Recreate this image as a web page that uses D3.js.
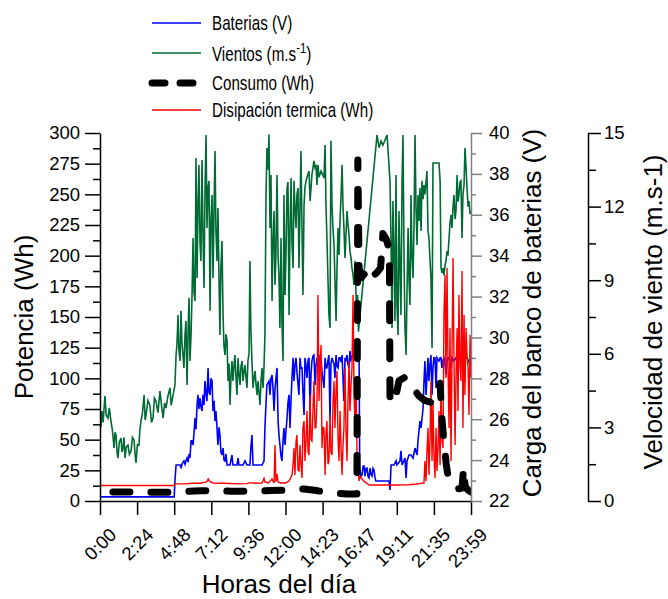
<!DOCTYPE html>
<html>
<head>
<meta charset="utf-8">
<script src="https://cdnjs.cloudflare.com/ajax/libs/d3/7.8.5/d3.min.js"></script>
<style>
body { margin: 0; background: #fff; }
svg { display: block; font-family: "Liberation Sans", Arial, sans-serif; }
.tick text { font-size: 18.5px; fill: #000; }
.leg text { font-size: 20px; }
.titulo { font-size: 26px; }
</style>
</head>
<body>
<script>
// hora del dia (h) -> valor
var horaTicks = [0, 2.4, 4.8, 7.2, 9.6, 12, 14.4, 16.8, 19.2, 21.6, 24];
var horaLabels = ['0:00', '2:24', '4:48', '7:12', '9:36', '12:00', '14:23', '16:47', '19:11', '21:35', '23:59'];
var potTicks = [0, 25, 50, 75, 100, 125, 150, 175, 200, 225, 250, 275, 300];
var vTicks = [22, 24, 26, 28, 30, 32, 34, 36, 38, 40];
var vientoTicks = [0, 3, 6, 9, 12, 15];

// velocidad de viento (m/s)
var viento = [[0,3.26],[0.06,3.0],[0.13,3.67],[0.2,3.2],[0.32,4.28],[0.4,3.5],[0.52,3.38],[0.6,3.8],[0.71,3.26],[0.8,2.9],
  [0.91,2.16],[0.97,2.8],[1.04,2.69],[1.1,2.0],[1.16,1.75],[1.25,2.4],[1.36,2.57],[1.42,2.0],[1.49,2.16],[1.55,2.6],
  [1.62,1.75],[1.7,2.2],[1.81,2.28],[1.9,1.9],[2.01,2.04],[2.1,2.6],[2.2,2.49],[2.27,1.9],[2.33,1.55],[2.42,2.3],
  [2.52,2.28],[2.58,2.9],[2.65,3.26],[2.75,3.6],[2.85,4.32],[2.92,3.3],[2.98,3.51],[3.1,4.1],[3.23,3.91],[3.33,3.2],
  [3.43,3.38],[3.52,4.2],[3.62,4.08],[3.75,3.6],[3.88,4.48],[3.98,3.9],[4.08,3.38],[4.18,4.0],[4.27,3.79],[4.4,4.3],
  [4.53,4.61],[4.6,3.9],[4.66,4.08],[4.75,4.4],[4.85,4.73],[4.92,5.95],[4.98,6.4],[5.05,7.58],[5.1,6.2],[5.18,5.71],
  [5.24,7.75],[5.3,6.5],[5.37,5.9],[5.43,5.42],[5.5,6.8],[5.56,7.34],[5.63,4.73],[5.7,7.0],[5.76,8.28],[5.82,5.71],
  [5.89,6.77],[5.95,8.28],[6.02,10.72],[6.08,8.5],[6.15,8.15],[6.21,13.98],[6.28,9.09],[6.34,12.0],[6.4,13.7],[6.47,10.5],
  [6.53,9.78],[6.6,13.9],[6.66,11.0],[6.73,8.68],[6.79,12.5],[6.86,14.92],[6.92,11.13],[6.99,12.8],[7.05,13.05],[7.12,7.75],
  [7.18,11.5],[7.25,12.47],[7.31,9.09],[7.38,12.0],[7.44,14.27],[7.5,11.0],[7.57,9.78],[7.63,11.94],[7.7,9.0],[7.76,6.77],
  [7.82,9.5],[7.89,10.6],[7.96,7.58],[8.02,6.3],[8.09,5.95],[8.15,6.8],[8.22,6.52],[8.28,4.89],[8.35,5.6],[8.41,3.91],
  [8.47,5.0],[8.54,5.71],[8.6,4.89],[8.67,5.5],[8.73,5.95],[8.8,5.0],[8.86,4.32],[8.93,5.83],[8.99,5.2],[9.06,4.73],
  [9.12,5.5],[9.19,5.71],[9.25,4.89],[9.32,5.3],[9.38,5.54],[9.45,5.0],[9.51,4.61],[9.57,5.71],[9.64,6.0],[9.7,9.78],
  [9.76,7.0],[9.83,5.71],[9.9,4.61],[9.96,5.0],[10.03,5.3],[10.1,4.7],[10.16,4.32],[10.22,4.89],[10.29,4.4],[10.35,3.91],
  [10.42,4.9],[10.48,5.42],[10.55,4.61],[10.61,5.5],[10.67,6.77],[10.74,12.47],[10.8,14.39],[10.87,13.5],[10.93,14.95],[11.0,11.13],
  [11.06,13.29],[11.13,8.15],[11.19,10.5],[11.26,11.82],[11.32,8.81],[11.38,10.0],[11.45,13.29],[11.52,10.0],[11.58,9.09],[11.64,7.05],
  [11.71,10.72],[11.77,7.34],[11.84,5.71],[11.9,12.47],[11.97,8.4],[12.03,10.0],[12.1,12.76],[12.16,13.0],[12.23,7.58],[12.29,11.0],
  [12.36,13.17],[12.42,10.5],[12.49,9.5],[12.55,13.05],[12.61,12.0],[12.68,11.13],[12.74,12.5],[12.81,12.76],[12.87,9.5],[12.94,12.0],
  [13.0,14.27],[13.07,11.0],[13.13,8.4],[13.2,12.07],[13.26,12.8],[13.33,13.05],[13.39,13.2],[13.52,13.45],[13.59,12.23],[13.71,13.29],
  [13.84,13.86],[13.91,13.6],[13.97,13.7],[14.04,12.88],[14.1,13.7],[14.17,13.2],[14.3,13.45],[14.49,13.17],[14.56,14.51],[14.62,12.0],
  [14.68,10.72],[14.75,9.0],[14.81,7.58],[14.88,7.05],[14.94,14.68],[15.01,12.0],[15.07,11.13],[15.14,10.44],[15.2,9.0],[15.27,7.34],
  [15.33,9.5],[15.4,11.13],[15.46,10.03],[15.53,11.5],[15.6,12.5],[15.66,13.7],[15.72,12.0],[15.78,11.13],[15.85,9.91],[15.91,10.8],
  [15.98,11.82],[16.04,11.3],[16.11,10.84],[16.17,10.19],[16.24,9.9],[16.3,9.5],[16.37,9.2],[16.43,8.81],[16.5,9.78],[16.56,8.5],
  [16.62,7.3],[16.66,8.4],[16.72,6.9],[17.92,14.92],[18.05,14.4],[18.18,14.68],[18.3,14.5],[18.57,14.92],[18.76,13.05],[18.83,10.44],
  [18.89,7.05],[18.95,12.23],[19.02,10.0],[19.08,7.34],[19.15,13.29],[19.21,8.0],[19.28,6.77],[19.34,11.82],[19.41,9.5],[19.47,7.58],
  [19.54,13.05],[19.6,14.92],[19.67,9.78],[19.73,7.05],[19.8,5.95],[19.86,8.5],[19.93,11.13],[19.99,9.0],[20.05,7.99],[20.12,12.47],
  [20.18,10.0],[20.25,9.09],[20.31,11.13],[20.38,14.92],[20.44,12.0],[20.51,10.44],[20.57,12.47],[20.64,11.41],[20.7,12.76],[20.77,11.01],
  [20.83,13.05],[20.9,12.3],[20.96,12.88],[21.02,12.5],[21.09,13.0],[21.15,13.45],[21.22,11.0],[21.28,10.72],[21.35,9.8],[21.41,9.09],
  [21.48,6.24],[21.54,13.78],[21.67,13.78],[21.8,13.78],[21.93,13.78],[22.0,13.05],[22.06,9.5],[22.12,9.3],[22.19,9.5],[22.25,9.21],
  [22.32,9.6],[22.38,9.78],[22.45,10.19],[22.51,10.0],[22.58,10.72],[22.64,11.3],[22.71,11.66],[22.77,11.13],[22.84,12.0],[22.9,12.47],
  [22.97,11.5],[23.03,11.82],[23.1,13.29],[23.16,12.2],[23.22,12.47],[23.29,13.0],[23.35,13.05],[23.42,10.72],[23.48,12.5],[23.55,12.88],
  [23.61,14.39],[23.68,13.58],[23.74,12.8],[23.81,12.0],[23.87,12.23],[23.94,11.7],[24.0,11.82]];

// carga del banco de baterias (V)
var baterias = [[0,22.2],[4.8,22.2],[4.85,23.0],[4.92,23.76],[5.2,23.76],[5.25,23.6],[5.3,23.8],[5.43,23.96],[5.5,23.8],[5.56,23.96],
  [5.63,24.1],[5.7,23.9],[5.76,24.3],[5.82,24.1],[5.89,24.94],[5.95,24.94],[6.02,24.74],[6.08,25.3],[6.15,26.06],[6.21,25.5],
  [6.28,26.7],[6.34,27.19],[6.4,26.5],[6.47,27.04],[6.53,26.6],[6.6,26.4],[6.66,27.19],[6.73,26.7],[6.79,27.87],[6.86,27.2],
  [6.92,26.89],[6.99,28.51],[7.05,27.3],[7.12,27.19],[7.18,28.0],[7.25,27.87],[7.31,26.4],[7.38,26.9],[7.44,25.91],[7.5,26.4],
  [7.57,25.57],[7.63,24.74],[7.7,25.6],[7.76,25.23],[7.82,24.4],[7.89,24.25],[7.96,24.59],[8.02,24.0],[8.09,23.96],[8.15,24.3],
  [8.22,23.76],[8.41,23.76],[8.54,24.25],[8.6,23.76],[8.86,23.76],[8.93,24.1],[8.99,23.76],[9.25,23.76],[9.38,23.96],[9.51,23.76],
  [9.7,23.76],[9.76,24.6],[9.83,25.23],[9.9,23.76],[10.48,23.76],[10.61,23.96],[10.67,25.57],[10.74,26.8],[10.8,27.68],[10.93,27.87],
  [11.0,27.19],[11.06,28.0],[11.13,28.16],[11.19,27.53],[11.26,26.4],[11.32,27.5],[11.45,28.51],[11.52,25.91],[11.58,25.2],[11.64,24.74],
  [11.71,24.2],[11.77,23.96],[11.84,24.94],[11.9,25.57],[11.97,24.74],[12.03,25.4],[12.1,26.06],[12.16,26.8],[12.23,27.19],[12.29,25.57],
  [12.36,27.0],[12.42,28.02],[12.49,29.0],[12.55,27.87],[12.61,28.6],[12.68,29.0],[12.74,28.3],[12.87,27.19],[12.94,29.0],[13.0,28.5],
  [13.07,28.51],[13.13,27.3],[13.2,26.21],[13.26,29.0],[13.33,28.6],[13.39,28.02],[13.46,28.9],[13.52,29.0],[13.59,26.4],[13.65,28.2],
  [13.71,28.85],[13.78,29.1],[13.84,29.14],[13.91,27.68],[13.97,28.6],[14.04,29.0],[14.1,28.7],[14.17,29.14],[14.23,28.51],[14.3,29.0],
  [14.36,28.3],[14.49,27.53],[14.56,29.0],[14.62,28.5],[14.68,28.51],[14.75,28.9],[14.81,29.14],[14.88,25.91],[14.94,28.7],[15.01,29.0],
  [15.07,28.85],[15.14,28.7],[15.2,28.02],[15.27,29.14],[15.33,28.6],[15.4,28.51],[15.46,29.0],[15.53,29.0],[15.6,28.8],[15.66,29.14],
  [15.72,28.0],[15.78,26.89],[15.85,29.0],[15.91,28.9],[15.98,29.14],[16.04,28.7],[16.11,28.51],[16.17,29.34],[16.24,28.9],[16.3,29.0],
  [16.37,29.2],[16.43,29.14],[16.5,29.34],[16.56,28.9],[16.63,28.85],[16.69,29.14],[16.76,29.14],[16.8,23.61],[16.88,23.2],[16.95,23.27],
  [17.02,23.7],[17.08,23.71],[17.14,23.22],[17.21,23.6],[17.27,23.61],[17.34,23.2],[17.4,23.13],[17.47,23.61],[17.53,23.3],[17.6,23.22],
  [17.66,23.6],[17.73,23.52],[17.79,23.13],[17.85,22.98],[18.7,22.98],[18.76,22.54],[18.83,23.76],[19.02,23.76],[19.15,23.96],[19.21,23.76],
  [19.41,23.96],[19.47,24.45],[19.54,23.76],[19.73,24.1],[19.8,23.13],[19.86,23.96],[19.99,24.25],[20.12,24.25],[20.25,24.1],[20.38,24.59],
  [20.51,24.25],[20.57,24.94],[20.7,25.91],[20.77,25.57],[20.9,26.55],[20.96,27.87],[21.02,28.85],[21.09,27.19],[21.15,28.0],[21.22,29.0],
  [21.28,27.87],[21.35,28.7],[21.41,29.14],[21.48,27.19],[21.54,28.51],[21.6,29.0],[21.67,29.0],[21.74,27.53],[21.8,29.0],[21.87,28.9],
  [21.93,28.85],[22.0,29.0],[22.06,29.0],[22.12,28.51],[22.19,28.9],[22.25,29.0],[22.32,28.7],[22.38,28.16],[22.45,28.85],[22.51,29.0],
  [22.58,29.0],[22.64,28.7],[22.71,28.51],[22.77,29.0],[22.9,28.85],[23.03,29.0],[23.16,28.9],[23.22,29.0],[23.35,28.85],[23.48,29.1],
  [23.61,29.0],[23.74,29.0],[23.87,28.8],[24.0,28.51]];

// disipacion termica (Wh)
var disipacion = [[0,12.6],[4.8,12.6],[4.9,14.0],[5.5,14.0],[6.0,14.5],[6.5,14.5],[6.9,15.5],[7.0,18.0],[7.1,16.0],[7.3,14.7],
  [8.0,14.5],[9.0,14.0],[9.5,14.2],[9.7,15.0],[10.0,14.5],[10.48,14.7],[10.55,16.5],[10.61,18.5],[10.67,15.5],[10.87,14.7],
  [11.0,16.0],[11.13,18.0],[11.26,14.7],[11.32,45.6],[11.38,15.5],[11.45,22.0],[11.52,15.5],[11.7,14.7],[12.0,14.7],[12.23,16.3],
  [12.42,21.2],[12.49,30.0],[12.55,43.2],[12.61,21.2],[12.68,48.0],[12.74,53.8],[12.81,25.0],[12.87,24.5],[12.94,45.6],[13.0,30.0],
  [13.07,18.7],[13.13,60.0],[13.2,65.2],[13.26,32.6],[13.33,50.0],[13.39,73.4],[13.46,40.0],[13.52,37.5],[13.59,86.4],[13.65,50.0],
  [13.71,48.9],[13.78,75.0],[13.84,97.8],[13.91,59.5],[13.97,60.0],[14.04,81.5],[14.1,167.9],[14.17,81.5],[14.23,110.0],[14.3,127.2],
  [14.36,43.2],[14.42,60.0],[14.49,59.5],[14.56,21.2],[14.62,55.0],[14.68,65.2],[14.75,30.0],[14.81,32.6],[14.88,70.1],[14.94,40.0],
  [15.01,37.5],[15.07,80.0],[15.14,97.8],[15.2,59.5],[15.27,90.0],[15.33,106.0],[15.4,50.0],[15.46,32.6],[15.53,73.4],[15.6,40.0],
  [15.66,21.2],[15.72,45.0],[15.78,59.5],[15.85,108.4],[15.91,60.0],[15.98,32.6],[16.04,80.0],[16.11,114.1],[16.17,73.4],[16.24,95.0],
  [16.3,108.4],[16.37,167.9],[16.43,90.0],[16.5,59.5],[16.56,97.8],[16.63,37.5],[16.7,24.5],[16.76,16.3],[16.82,20.0],[16.95,17.9],
  [17.1,16.0],[17.3,14.0],[17.47,13.0],[18.5,13.0],[19.0,13.0],[20.0,13.2],[20.5,13.9],[20.96,14.7],[21.02,32.6],[21.09,16.3],
  [21.15,40.0],[21.22,59.5],[21.28,21.2],[21.35,50.0],[21.41,97.8],[21.48,32.6],[21.54,81.5],[21.6,40.0],[21.67,18.7],[21.74,59.5],
  [21.8,24.5],[21.87,45.0],[21.93,73.4],[22.0,29.3],[22.06,97.8],[22.12,50.0],[22.19,43.2],[22.25,151.6],[22.32,184.2],[22.38,100.3],
  [22.45,189.9],[22.51,110.0],[22.58,59.5],[22.64,141.0],[22.71,32.6],[22.77,120.0],[22.84,198.1],[22.9,114.1],[22.97,45.6],[23.03,100.0],
  [23.1,141.0],[23.16,73.4],[23.22,167.9],[23.29,110.0],[23.35,97.8],[23.42,187.5],[23.48,59.5],[23.55,151.6],[23.61,86.4],[23.68,141.0],
  [23.74,120.0],[23.81,108.4],[23.87,70.1],[23.94,135.3],[24.0,100.0]];

// consumo (Wh)
var consumo = [[0,7.3],[2.4,7.3],[4.8,7.0],[5.5,7.8],[6.5,8.3],[7.2,8.5],[8.5,8.0],[10.0,7.8],[11.0,8.5],[12.2,8.8],
  [13.2,9.8],[14.0,8.5],[15.0,6.5],[16.0,5.7],[16.62,5.7],[16.68,278],[16.76,190],[16.9,182],[17.1,185],[17.3,182],
  [17.5,188],[17.7,184],[17.9,186],[18.15,190],[18.3,218],[18.5,214],[18.72,205],[18.76,80],[18.9,80],[19.1,83],
  [19.34,98],[19.75,101],[20.2,94],[20.6,86],[21.0,82],[21.5,80],[21.8,84],[22.0,96],[22.1,70],[22.25,48],
  [22.4,30],[22.55,17],[22.8,12],[23.2,10],[23.42,10.5],[23.52,27],[23.62,12],[23.8,9],[24.0,7.3]];

var w = 668, h = 599;
var izq = 100, der = 471, arriba = 133, abajo = 501;

var x = d3.scaleLinear().domain([0, 24]).range([izq, der]);
var yP = d3.scaleLinear().domain([0, 300]).range([abajo, arriba]);
var yV = d3.scaleLinear().domain([22, 40]).range([abajo, arriba]);
var yW = d3.scaleLinear().domain([0, 15]).range([abajo, arriba]);

var svg = d3.select('body').append('svg')
  .attr('width', w)
  .attr('height', h);

svg.append('clipPath').attr('id', 'clip')
  .append('rect')
  .attr('x', izq).attr('y', arriba - 3)
  .attr('width', der - izq + 1).attr('height', abajo - arriba + 3);

function estilo(g, color) {
  g.attr('font-size', null).attr('font-family', null);
  g.selectAll('path.domain').attr('stroke', color).attr('stroke-width', 1.5);
  g.selectAll('.tick line').attr('stroke', color).attr('stroke-width', 1.5);
  g.selectAll('.tick text').attr('fill', '#000');
}

// series
var linea = function(sc) {
  return d3.line()
    .x(function(d) { return x(d[0]); })
    .y(function(d) { return sc(d[1]); });
};

var plot = svg.append('g').attr('clip-path', 'url(#clip)');

plot.append('path').datum(viento)
  .attr('d', linea(yW))
  .attr('fill', 'none').attr('stroke', '#006b35').attr('stroke-width', 1.6);

plot.append('path').datum(baterias)
  .attr('d', linea(yV))
  .attr('fill', 'none').attr('stroke', '#0000ff').attr('stroke-width', 1.6);

plot.append('path').datum(disipacion)
  .attr('d', linea(yP))
  .attr('fill', 'none').attr('stroke', '#ff0000').attr('stroke-width', 1.4);

// los trazos del consumo se centran en el pico para que la subida y la bajada coincidan
var iPico = d3.maxIndex(consumo, function(d) { return d[1]; });
var tmp = plot.append('path').attr('d', linea(yP)(consumo.slice(0, iPico + 1)));
var lPico = tmp.node().getTotalLength();
tmp.remove();
var dashOff = ((8.5 - lPico) % 38 + 38) % 38;

plot.append('path').datum(consumo)
  .attr('d', linea(yP))
  .attr('fill', 'none').attr('stroke', '#000')
  .attr('stroke-width', 7)
  .attr('stroke-dasharray', '17,21')
  .attr('stroke-dashoffset', dashOff)
  .attr('stroke-linecap', 'round')
  .attr('stroke-linejoin', 'round');

// ejes
svg.append('g')
  .attr('transform', 'translate(' + izq + ',0)')
  .call(d3.axisLeft(yP).tickValues(d3.range(12.5, 300, 25)).tickSize(7).tickSizeOuter(0).tickFormat(''))
  .call(function(g) { g.select('.domain').remove(); estilo(g, '#000'); });

svg.append('g')
  .attr('transform', 'translate(' + izq + ',0)')
  .call(d3.axisLeft(yP).tickValues(potTicks).tickSize(15).tickSizeOuter(0).tickPadding(5))
  .call(function(g) { estilo(g, '#000'); });

var ejeX = svg.append('g')
  .attr('transform', 'translate(0,' + abajo + ')')
  .call(d3.axisBottom(x).tickValues(horaTicks).tickSize(14).tickSizeOuter(0)
    .tickFormat(function(d, i) { return horaLabels[i]; }))
  .call(function(g) { estilo(g, '#000'); });

ejeX.selectAll('.tick text')
  .attr('x', 0).attr('y', 0).attr('dy', 0)
  .attr('text-anchor', 'end')
  .attr('transform', 'translate(17,35) rotate(-45)');

svg.append('g')
  .attr('transform', 'translate(' + der + ',0)')
  .call(d3.axisRight(yV).tickValues(d3.range(23, 40, 2)).tickSize(5).tickSizeOuter(0).tickFormat(''))
  .call(function(g) { g.select('.domain').remove(); estilo(g, '#808080'); });

svg.append('g')
  .attr('transform', 'translate(' + der + ',0)')
  .call(d3.axisRight(yV).tickValues(vTicks).tickSize(11).tickSizeOuter(0).tickPadding(7))
  .call(function(g) { estilo(g, '#808080'); });

var xW = 588;
svg.append('g')
  .attr('transform', 'translate(' + xW + ',0)')
  .call(d3.axisRight(yW).tickValues(d3.range(1.5, 15, 3)).tickSize(8).tickSizeOuter(0).tickFormat(''))
  .call(function(g) { g.select('.domain').remove(); estilo(g, '#000'); });

svg.append('g')
  .attr('transform', 'translate(' + xW + ',0)')
  .call(d3.axisRight(yW).tickValues(vientoTicks).tickSize(13).tickSizeOuter(0).tickPadding(3))
  .call(function(g) { estilo(g, '#000'); });

// titulos
svg.append('text').attr('class', 'titulo')
  .attr('transform', 'translate(33,317) rotate(-90)')
  .attr('text-anchor', 'middle')
  .text('Potencia (Wh)');

svg.append('text').attr('class', 'titulo')
  .attr('transform', 'translate(541,313) rotate(-90)')
  .attr('text-anchor', 'middle')
  .text('Carga del banco de baterias (V)');

svg.append('text').attr('class', 'titulo')
  .attr('transform', 'translate(662,312) rotate(-90)')
  .attr('text-anchor', 'middle')
  .text('Velocidad de viento (m.s-1)');

svg.append('text').attr('class', 'titulo')
  .attr('x', 279).attr('y', 593)
  .attr('text-anchor', 'middle')
  .text('Horas del día');

// leyenda
var leg = svg.append('g').attr('class', 'leg');

function itemLeyenda(y, color, ancho, dash) {
  var l = leg.append('line')
    .attr('x1', 152).attr('x2', 201)
    .attr('y1', y).attr('y2', y)
    .attr('stroke', color).attr('stroke-width', ancho);
  if (dash) {
    l.attr('stroke-dasharray', dash).attr('stroke-linecap', 'round');
  }
}

function textoLeyenda(y) {
  return leg.append('text').attr('transform', 'translate(212,' + y + ') scale(0.76,1)');
}

itemLeyenda(23, '#0000ff', 1.6);
itemLeyenda(53, '#006b35', 1.6);
itemLeyenda(83, '#000', 7, '13,15');
itemLeyenda(110, '#ff0000', 1.4);

textoLeyenda(30).text('Baterias (V)');
var tv = textoLeyenda(61);
tv.append('tspan').text('Vientos (m.s');
tv.append('tspan').attr('dy', -8).attr('font-size', 15).text('-1');
tv.append('tspan').attr('dy', 8).text(')');
textoLeyenda(90).text('Consumo (Wh)');
textoLeyenda(117).text('Disipación termica (Wh)');
</script>
</body>
</html>
